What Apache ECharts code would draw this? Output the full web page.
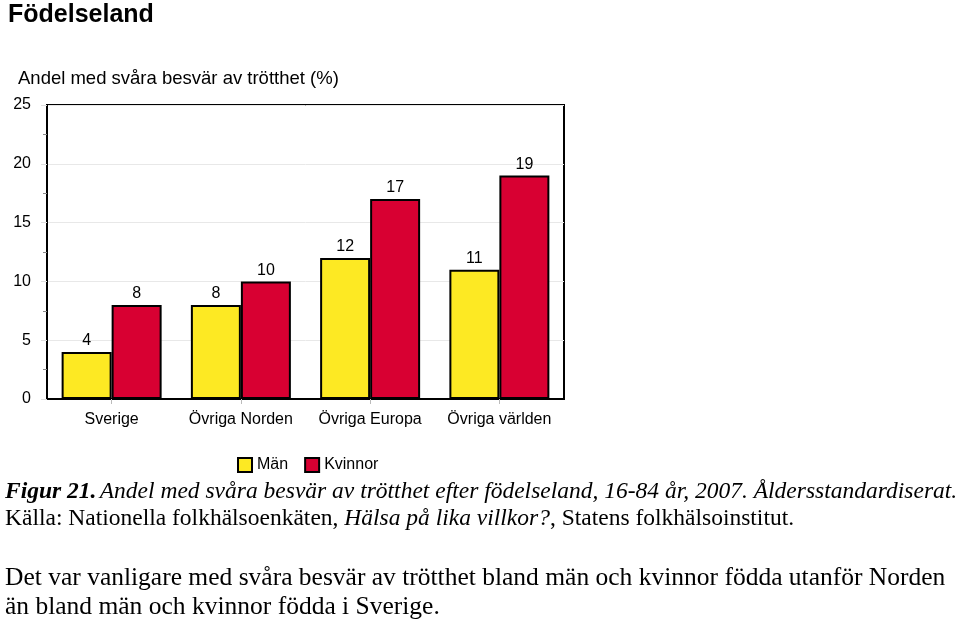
<!DOCTYPE html>
<html><head><meta charset="utf-8">
<script src="https://cdn.jsdelivr.net/npm/echarts@6/dist/echarts.min.js"></script>
<style>html,body{margin:0;padding:0;background:#fff}#c{width:960px;height:624px}</style>
</head><body><div id="c"></div>
<script>
var categories = ['Sverige', 'Övriga Norden', 'Övriga Europa', 'Övriga världen'];
var manValues = [4, 8, 12, 11];
var kvinnorValues = [8, 10, 17, 19];
var seriesNames = ['Män', 'Kvinnor'];
var yTicks = {min: 0, max: 25, interval: 5};

var chart = echarts.init(document.getElementById('c'), null, {renderer: 'canvas'});
var sans = 'Liberation Sans, Arial, sans-serif';
var serif = 'Liberation Serif, Times New Roman, serif';
var barBase = {type: 'bar', barWidth: 50, barGap: '0%',
  label: {show: true, position: 'top', distance: 3, fontFamily: sans, fontSize: 16, color: '#000'}};
chart.setOption({
  animation: false,
  title: [
    {text: 'Födelseland', left: 3, top: -2, textStyle: {fontFamily: sans, fontSize: 25, fontWeight: 'bold', color: '#000'}},
    {text: 'Andel med svåra besvär av trötthet (%)', left: 13, top: 64, textStyle: {fontFamily: sans, fontSize: 18.5, fontWeight: 'normal', color: '#000'}}
  ],
  graphic: [
    {type: 'text', left: 5, top: 480, style: {
      text: '{b|Figur 21.} {i|Andel med svåra besvär av trötthet efter födelseland, 16-84 år, 2007. Åldersstandardiserat.}',
      rich: {b: {fontFamily: serif, fontSize: 23.5, fontStyle: 'italic', fontWeight: 'bold', fill: '#000'},
             i: {fontFamily: serif, fontSize: 23.5, fontStyle: 'italic', fill: '#000'}}}},
    {type: 'text', left: 5, top: 507, style: {
      text: '{r|Källa: Nationella folkhälsoenkäten, }{i|Hälsa på lika villkor?}{r|, Statens folkhälsoinstitut.}',
      rich: {r: {fontFamily: serif, fontSize: 23.5, fill: '#000'},
             i: {fontFamily: serif, fontSize: 23.5, fontStyle: 'italic', fill: '#000'}}}},
    {type: 'text', left: 5, top: 565, style: {text: 'Det var vanligare med svåra besvär av trötthet bland män och kvinnor födda utanför Norden', fontFamily: serif, fontSize: 25.5, fill: '#000'}},
    {type: 'text', left: 5, top: 594, style: {text: 'än bland män och kvinnor födda i Sverige.', fontFamily: serif, fontSize: 25.5, fill: '#000'}}
  ],
  legend: {data: seriesNames, left: 232, top: 452, icon: 'rect', itemWidth: 14, itemHeight: 14, itemGap: 16,
    textStyle: {fontFamily: sans, fontSize: 16, color: '#000'}},
  grid: {left: 47, right: 396, top: 105, bottom: 225, show: true, borderColor: '#000', borderWidth: 2, backgroundColor: 'transparent'},
  xAxis: {type: 'category', data: categories,
    axisLine: {lineStyle: {color: '#000', width: 2}},
    axisTick: {show: true, alignWithLabel: true, length: 5, lineStyle: {color: '#bbb'}},
    axisLabel: {fontFamily: sans, fontSize: 16, color: '#000', margin: 13, interval: 0}},
  yAxis: {type: 'value', min: yTicks.min, max: yTicks.max, interval: yTicks.interval,
    axisLine: {show: true, lineStyle: {color: '#000', width: 2}},
    axisTick: {show: true, length: 6, lineStyle: {color: '#ddd'}},
    minorTick: {show: true, splitNumber: 2, length: 4, lineStyle: {color: '#888'}},
    splitLine: {show: true, lineStyle: {color: '#e8e8e8'}},
    axisLabel: {fontFamily: sans, fontSize: 16, color: '#000', margin: 16}},
  series: [
    Object.assign({}, barBase, {name: seriesNames[0], data: manValues, itemStyle: {color: '#FDE923', borderColor: '#000', borderWidth: 2}}),
    Object.assign({}, barBase, {name: seriesNames[1], data: kvinnorValues, itemStyle: {color: '#D80032', borderColor: '#000', borderWidth: 2}})
  ]
});
</script></body></html>
